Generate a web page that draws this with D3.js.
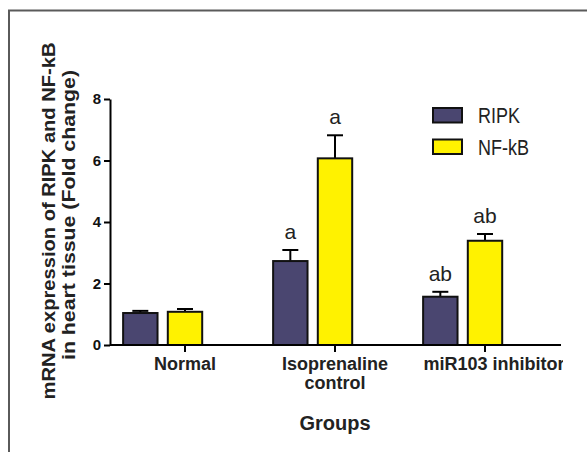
<!DOCTYPE html>
<html>
<head>
<meta charset="utf-8">
<script src="https://cdn.jsdelivr.net/npm/d3@7"></script>
<style>
  body { margin: 0; background: #fff; }
  text { font-family: "Liberation Sans", Arial, sans-serif; }
  .yax text { font-size: 15px; font-weight: bold; }
</style>
</head>
<body>
<script>
// Data

const groups = ["Normal", "Isoprenaline\ncontrol", "miR103 inhibitor"];
const series = ["RIPK", "NF-kB"];
const ripkMean = [1.04, 2.73, 1.57];
const ripkErr = [0.07, 0.36, 0.16];
const nfkbMean = [1.08, 6.07, 3.39];
const nfkbErr = [0.09, 0.75, 0.22];
const ripkLetters = ["", "a", "ab"];
const nfkbLetters = ["", "a", "ab"];
const yTicks = [0, 2, 4, 6, 8];
const colors = ["#4a4670", "#fff200"];

// Dimensions

const width = 587;
const height = 452;
const x0Left = 110;
const x0Right = 560;
const yBottom = 345;
const yTop = 99;

const svg = d3.select("body")
  .append("svg")
  .attr("width", width)
  .attr("height", height);

// frame (top and left edge only, like the cropped figure)
svg.append("path")
  .attr("d", "M9,452 L9,10.5 L587,10.5")
  .attr("fill", "none")
  .attr("stroke", "#5a5a5a")
  .attr("stroke-width", 2);

// Scales

const x0 = d3.scaleBand()
  .domain(groups)
  .range([x0Left, x0Right])
  .paddingInner(0.175)
  .paddingOuter(0.0875);

// third empty slot, the way Prism lays out grouped columns
const x1 = d3.scaleBand()
  .domain(series.concat(["_"]))
  .range([0, x0.bandwidth()])
  .paddingInner(0.23);

const y = d3.scaleLinear()
  .domain([0, 8])
  .range([yBottom, yTop]);

// Rows built from the arrays

const rows = [];
groups.forEach((g, i) => {
  rows.push({ group: g, key: "RIPK", value: ripkMean[i], err: ripkErr[i], letter: ripkLetters[i], s: 0 });
  rows.push({ group: g, key: "NF-kB", value: nfkbMean[i], err: nfkbErr[i], letter: nfkbLetters[i], s: 1 });
});

const barX = d => x0(d.group) + x1(d.key);
const barMid = d => barX(d) + x1.bandwidth() / 2;

// error bars (upper only)
const err = svg.append("g")
  .attr("stroke", "#000")
  .attr("stroke-width", 2);

err.selectAll("line.v")
  .data(rows)
  .enter()
  .append("line")
  .attr("x1", barMid)
  .attr("x2", barMid)
  .attr("y1", d => y(d.value))
  .attr("y2", d => y(d.value + d.err));

err.selectAll("line.cap")
  .data(rows)
  .enter()
  .append("line")
  .attr("x1", d => barMid(d) - 8)
  .attr("x2", d => barMid(d) + 8)
  .attr("y1", d => y(d.value + d.err))
  .attr("y2", d => y(d.value + d.err));

// bars
svg.selectAll("rect.bar")
  .data(rows)
  .enter()
  .append("rect")
  .attr("x", barX)
  .attr("y", d => y(d.value))
  .attr("width", x1.bandwidth())
  .attr("height", d => yBottom - y(d.value))
  .attr("fill", d => colors[d.s])
  .attr("stroke", "#111")
  .attr("stroke-width", 2);

// significance letters
svg.selectAll("text.letter")
  .data(rows.filter(d => d.letter))
  .enter()
  .append("text")
  .attr("x", barMid)
  .attr("y", d => y(d.value + d.err) - 11)
  .attr("text-anchor", "middle")
  .style("font-size", "21px")
  .attr("fill", "#222")
  .text(d => d.letter);

// Y axis
const yAxis = svg.append("g")
  .attr("class", "yax")
  .attr("transform", "translate(" + x0Left + ",0)")
  .call(d3.axisLeft(y).tickValues(yTicks).tickSize(6).tickSizeOuter(0).tickPadding(3));

yAxis.attr("font-size", 15).attr("font-family", null);
yAxis.select(".domain").attr("stroke-width", 2);
yAxis.selectAll(".tick line").attr("stroke-width", 2);
yAxis.selectAll(".tick text").attr("fill", "#111");

// X axis
const xAxis = svg.append("g")
  .attr("transform", "translate(0," + yBottom + ")")
  .call(d3.axisBottom(x0).tickSize(7).tickSizeOuter(0).tickFormat(""));

xAxis.select(".domain").attr("stroke-width", 2).attr("d", "M" + x0Left + ",0H" + (x0Right + 1));
xAxis.selectAll(".tick line").attr("stroke-width", 2);

// category labels, last one runs past the frame and is cut
svg.append("clipPath")
  .attr("id", "cut")
  .append("rect")
  .attr("x", 0).attr("y", 0)
  .attr("width", 563).attr("height", height);

const cat = svg.append("g")
  .attr("clip-path", "url(#cut)")
  .selectAll("text.cat")
  .data(groups)
  .enter()
  .append("text")
  .attr("x", (d, i) => x0(d) + x0.bandwidth() / 2 + (i === groups.length - 1 ? 9 : 0))
  .attr("y", 370)
  .attr("text-anchor", "middle")
  .style("font-size", "18px")
  .style("font-weight", "bold")
  .attr("fill", "#222");

cat.selectAll("tspan")
  .data(d => d.split("\n"))
  .enter()
  .append("tspan")
  .attr("x", function() { return d3.select(this.parentNode).attr("x"); })
  .attr("dy", (d, i) => i === 0 ? 0 : 19)
  .text(d => d);

// axis titles
svg.append("text")
  .attr("x", 335)
  .attr("y", 430)
  .attr("text-anchor", "middle")
  .style("font-size", "20px")
  .style("font-weight", "bold")
  .attr("fill", "#222")
  .text("Groups");

const yTitle = [
  { text: "mRNA expression of RIPK and NF-kB", x: 55, cy: 221, len: 357 },
  { text: "in heart tissue (Fold change)", x: 75, cy: 215, len: 290 }
];

svg.selectAll("text.ytitle")
  .data(yTitle)
  .enter()
  .append("text")
  .attr("transform", d => "translate(" + d.x + "," + d.cy + ") rotate(-90)")
  .attr("text-anchor", "middle")
  .style("font-size", "18px")
  .style("font-weight", "bold")
  .attr("fill", "#222")
  .attr("textLength", d => d.len)
  .attr("lengthAdjust", "spacingAndGlyphs")
  .text(d => d.text);

// Legend
const legend = svg.selectAll("g.legend")
  .data(series)
  .enter()
  .append("g")
  .attr("transform", (d, i) => "translate(433," + (108 + i * 31.5) + ")");

legend.append("rect")
  .attr("width", 29)
  .attr("height", 14.5)
  .attr("fill", (d, i) => colors[i])
  .attr("stroke", "#111")
  .attr("stroke-width", 2);

legend.append("text")
  .attr("transform", "translate(45,15) scale(1,1.2)")
  .style("font-size", "18px")
  .attr("fill", "#222")
  .text(d => d);
</script>
</body>
</html>
